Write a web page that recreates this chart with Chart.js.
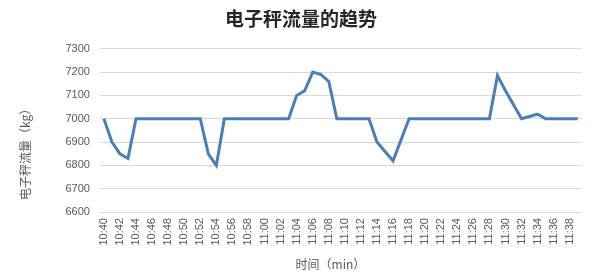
<!DOCTYPE html>
<html>
<head>
<meta charset="utf-8">
<script src="https://cdn.jsdelivr.net/npm/chart.js@4.4.0/dist/chart.umd.min.js"></script>
<style>
  html, body { margin: 0; padding: 0; background: #fff; }
  #wrap { width: 597px; height: 279px; }
</style>
</head>
<body>
<div id="wrap"><canvas id="myChart" width="597" height="279"></canvas></div>
<script>
// minute-by-minute readings, 10:40 .. 11:39
const times = [
  "10:40","10:41","10:42","10:43","10:44","10:45","10:46","10:47","10:48","10:49",
  "10:50","10:51","10:52","10:53","10:54","10:55","10:56","10:57","10:58","10:59",
  "11:00","11:01","11:02","11:03","11:04","11:05","11:06","11:07","11:08","11:09",
  "11:10","11:11","11:12","11:13","11:14","11:15","11:16","11:17","11:18","11:19",
  "11:20","11:21","11:22","11:23","11:24","11:25","11:26","11:27","11:28","11:29",
  "11:30","11:31","11:32","11:33","11:34","11:35","11:36","11:37","11:38","11:39"
];
const flow = [
  7000, 6900, 6850, 6830, 7000, 7000, 7000, 7000, 7000, 7000,
  7000, 7000, 7000, 6850, 6800, 7000, 7000, 7000, 7000, 7000,
  7000, 7000, 7000, 7000, 7100, 7120, 7200, 7190, 7160, 7000,
  7000, 7000, 7000, 7000, 6900, 6860, 6820, 6910, 7000, 7000,
  7000, 7000, 7000, 7000, 7000, 7000, 7000, 7000, 7000, 7185,
  7120, 7060, 7000, 7010, 7020, 7000, 7000, 7000, 7000, 7000
];
const yTicks = [6600, 6700, 6800, 6900, 7000, 7100, 7200, 7300];

const ctx = document.getElementById("myChart").getContext("2d");
const chart = new Chart(ctx, {
  type: "line",
  data: {
    labels: times,
    datasets: [{
      data: flow,
      borderColor: "#4a7ebb",
      borderWidth: 3,
      pointRadius: 0,
      tension: 0,
      fill: false
    }]
  },
  options: {
    responsive: false,
    animation: false,
    layout: { padding: { left: 8, right: 3, top: 0, bottom: 0 } },
    plugins: {
      legend: { display: false },
      tooltip: { enabled: false },
      title: {
        display: true,
        text: "电子秤流量的趋势",
        color: "#262626",
        font: { family: "'Noto Sans CJK SC'", size: 19, weight: "bold" },
        padding: { top: 7, bottom: 19 }
      }
    },
    scales: {
      x: {
        offset: true,
        grid: { display: false, drawTicks: false },
        border: { display: false },
        ticks: {
          autoSkip: false,
          maxRotation: 90,
          minRotation: 90,
          color: "#595959",
          font: { family: "'Liberation Sans'", size: 11 },
          padding: 6,
          callback: (v, i) => (i % 2 === 0 ? times[i] : "")
        },
        title: {
          display: true,
          text: "时间（min）　　 ",
          color: "#595959",
          font: { family: "'Noto Sans CJK SC'", size: 12 },
          padding: { top: 6, bottom: 7 }
        }
      },
      y: {
        min: 6600,
        max: 7300,
        afterBuildTicks: (axis) => { axis.ticks = yTicks.map(v => ({ value: v })); },
        grid: { color: "#d9d9d9", drawTicks: false },
        border: { display: false },
        ticks: {
          color: "#595959",
          font: { family: "'Liberation Sans'", size: 11 },
          padding: 10,
          callback: (v) => String(v)
        },
        title: {
          display: true,
          text: "电子秤流量（kg）　　　　",
          color: "#595959",
          font: { family: "'Noto Sans CJK SC'", size: 12 },
          padding: { top: 10, bottom: 23 }
        }
      }
    }
  }
});
</script>
</body>
</html>
